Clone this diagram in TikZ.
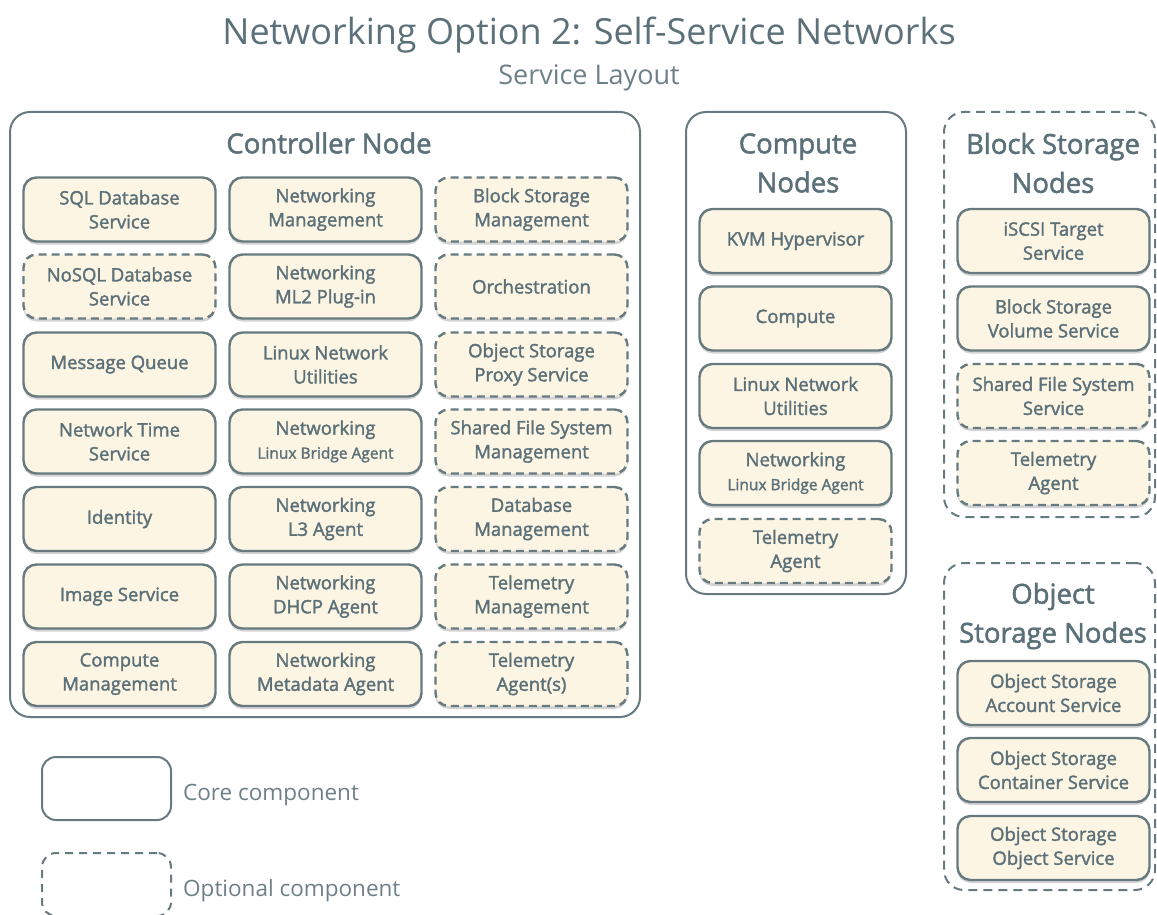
\documentclass[tikz,border=0pt]{standalone}
\usepackage{fontspec}
\setmainfont{Open Sans}
\newfontfamily\semib[FakeBold=1.8]{Open Sans}
\usetikzlibrary{shadows}
\definecolor{txt}{HTML}{5B7078}
\definecolor{bord}{HTML}{667A80}
\definecolor{boxfill}{HTML}{FCF5E4}
\definecolor{legtxt}{HTML}{6E8087}
\tikzset{
  svc/.style={draw=bord, line width=2.4pt, fill=boxfill, rounded corners=13pt,
    minimum width=192pt, minimum height=64pt, align=center, text=txt,
    font=\semib\fontsize{18.5}{24}\selectfont, inner sep=0pt,
    drop shadow={opacity=0.35, shadow xshift=0pt, shadow yshift=-3pt}},
  opt/.style={svc, dash pattern=on 8pt off 5pt},
  cont/.style={draw=bord, line width=2pt, rounded corners=20pt, inner sep=0pt},
  contopt/.style={cont, dash pattern=on 9pt off 6pt},
  ttl/.style={text=txt, font=\semib\fontsize{27.5}{39}\selectfont, align=center, inner sep=0pt},
  leg/.style={text=legtxt, font=\fontsize{22.5}{25}\selectfont, anchor=west, inner sep=0pt},
}
\newcommand{\smalltxt}{\fontsize{15.5}{16}\selectfont}
\begin{document}
\begin{tikzpicture}[x=1pt,y=-1pt]
\useasboundingbox (0,0) rectangle (1157,915);
% titles
\node[text=txt, font=\fontsize{36}{40}\selectfont, inner sep=0pt] (title) at (589,35) {Networking Option 2: Self-Service Networks};
\node[text=legtxt, font=\fontsize{27}{30}\selectfont, inner sep=0pt] (subtitle) at (589,78) {Service Layout};
% containers
\node[cont, minimum width=630pt, minimum height=605pt] (ctrl) at (325,414.5) {};
\node[ttl] (ctrlt) at (329,143) {Controller Node};
\node[cont, minimum width=220pt, minimum height=482pt] (comp) at (796,353) {};
\node[ttl] (compt) at (798,163) {Compute\\Nodes};
\node[contopt, minimum width=211pt, minimum height=405pt] (blk) at (1049.5,314.5) {};
\node[ttl] (blkt) at (1053,163) {Block Storage\\Nodes};
\node[contopt, minimum width=211pt, minimum height=327pt] (obj) at (1049.5,726.5) {};
\node[ttl] (objt) at (1053,616) {Object\\Storage Nodes};
% controller column 1
\node[svc] (a1) at (119.5,209.5) {SQL Database\\Service};
\node[opt] (a2) at (119.5,286.5) {NoSQL Database\\Service};
\node[svc] (a3) at (119.5,364.5) {Message Queue};
\node[svc] (a4) at (119.5,441.5) {Network Time\\Service};
\node[svc] (a5) at (119.5,519) {Identity};
\node[svc] (a6) at (119.5,596.5) {Image Service};
\node[svc] (a7) at (119.5,674) {Compute\\Management};
% controller column 2
\node[svc] (b1) at (325.5,209.5) {Networking\\Management};
\node[svc] (b2) at (325.5,286.5) {Networking\\ML2 Plug-in};
\node[svc] (b3) at (325.5,364.5) {Linux Network\\Utilities};
\node[svc] (b4) at (325.5,441.5) {Networking\\{\smalltxt Linux Bridge Agent}};
\node[svc] (b5) at (325.5,519) {Networking\\L3 Agent};
\node[svc] (b6) at (325.5,596.5) {Networking\\DHCP Agent};
\node[svc] (b7) at (325.5,674) {Networking\\Metadata Agent};
% controller column 3
\node[opt] (c1) at (531.5,209.5) {Block Storage\\Management};
\node[opt] (c2) at (531.5,286.5) {Orchestration};
\node[opt] (c3) at (531.5,364.5) {Object Storage\\Proxy Service};
\node[opt] (c4) at (531.5,441.5) {Shared File System\\Management};
\node[opt] (c5) at (531.5,519) {Database\\Management};
\node[opt] (c6) at (531.5,596.5) {Telemetry\\Management};
\node[opt] (c7) at (531.5,674) {Telemetry\\Agent(s)};
% compute nodes
\node[svc] (d1) at (795.5,241) {KVM Hypervisor};
\node[svc] (d2) at (795.5,318.5) {Compute};
\node[svc] (d3) at (795.5,396) {Linux Network\\Utilities};
\node[svc] (d4) at (795.5,473) {Networking\\{\smalltxt Linux Bridge Agent}};
\node[opt] (d5) at (795.5,551) {Telemetry\\Agent};
% block storage nodes
\node[svc] (e1) at (1053.5,241) {iSCSI Target\\Service};
\node[svc] (e2) at (1053.5,318.5) {Block Storage\\Volume Service};
\node[opt] (e3) at (1053.5,396) {Shared File System\\Service};
\node[opt] (e4) at (1053.5,473) {Telemetry\\Agent};
% object storage nodes
\node[svc] (f1) at (1053.5,693) {Object Storage\\Account Service};
\node[svc] (f2) at (1053.5,770) {Object Storage\\Container Service};
\node[svc] (f3) at (1053.5,848) {Object Storage\\Object Service};
% legend
\node[draw=bord, line width=2pt, rounded corners=14pt, minimum width=129pt, minimum height=63pt] (lcore) at (106.5,788.5) {};
\node[leg] (lcoret) at (183,795) {Core component};
\node[draw=bord, line width=2pt, rounded corners=14pt, dash pattern=on 8pt off 6pt, minimum width=129pt, minimum height=63pt] (lopt) at (106.5,884.5) {};
\node[leg] (loptt) at (183,891) {Optional component};
\end{tikzpicture}
\end{document}
